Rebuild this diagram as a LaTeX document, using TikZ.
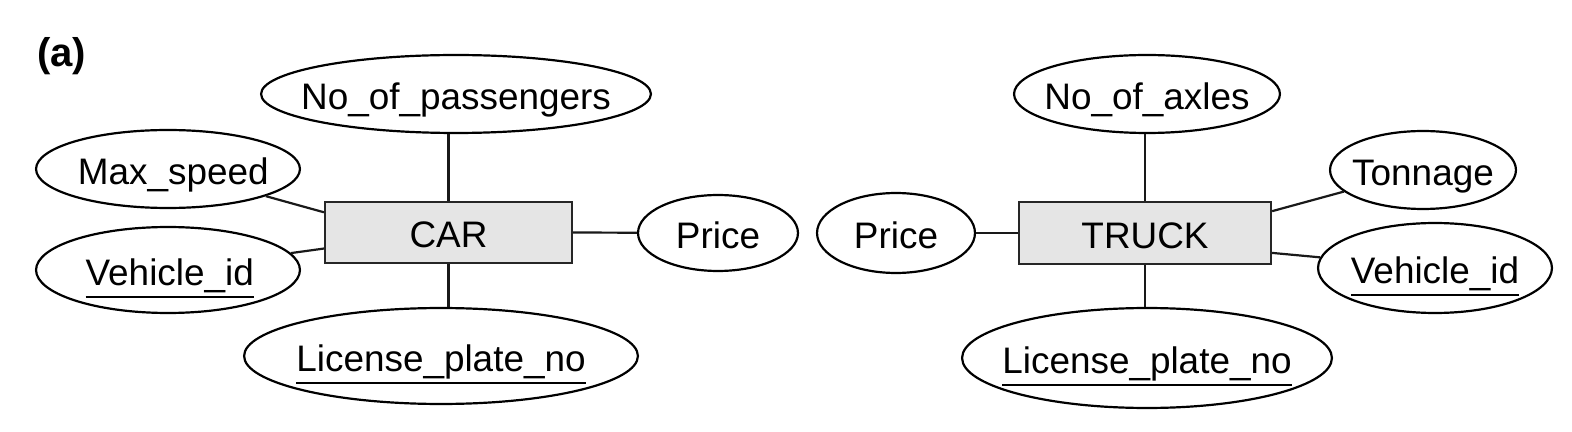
\documentclass[tikz,border=0pt]{standalone}
\usepackage{fontspec}
\setmainfont{Liberation Sans}
\usetikzlibrary{shapes.geometric,calc}
\newcommand{\ulx}[1]{\setbox0\hbox{#1}\rlap{\raisebox{-0.35em}{\rule{\wd0}{0.06em}}}\box0}
\begin{document}
\begin{tikzpicture}[x=0.02cm,y=-0.02cm,
  txt/.style={font=\fontsize{21}{25}\selectfont, text height=17.3pt, text depth=0pt},
  attr/.style 2 args={txt, ellipse, draw, line width=1.25pt, inner sep=0pt,
    minimum width={#1*0.04cm}, minimum height={#2*0.04cm}},
  entity/.style 2 args={txt, rectangle, draw=black!85, fill=black!10, line width=1.25pt,
    inner sep=0pt, minimum width={#1*0.02cm}, minimum height={#2*0.02cm}},
  conn/.style={line width=1.25pt, draw=black!90},
  tag/.style={font=\fontsize{22.8}{26}\selectfont\bfseries, inner sep=0pt, anchor=base west}]
\useasboundingbox (0,0) rectangle (1572,432);
\node[tag] (lbl) at (37,67) {(a)};
% CAR
\node[entity={247}{61}] (car) at (448.5,232.5) {\makebox[0pt]{CAR}};
\node[attr={195}{39}] (pas) at (456,94) {\makebox[0pt]{No\_of\_passengers}};
\node[attr={132}{39}] (max) at (168,169) {\makebox[0pt]{\hspace{6pt}Max\_speed}};
\node[attr={132}{43}] (vid1) at (168,270) {\makebox[0pt]{\hspace{2pt}\ulx{Vehicle\_id}}};
\node[attr={197}{48}] (lic1) at (441,356) {\makebox[0pt]{\ulx{License\_plate\_no}}};
\node[attr={80}{38}] (pr1) at (718,233) {\makebox[0pt]{Price}};
% TRUCK
\node[entity={252}{62}] (truck) at (1145,233) {\makebox[0pt]{TRUCK}};
\node[attr={79}{40}] (pr2) at (896,233) {\makebox[0pt]{Price}};
\node[attr={133}{39}] (axl) at (1147,94) {\makebox[0pt]{No\_of\_axles}};
\node[attr={93}{39}] (ton) at (1423,170) {\makebox[0pt]{Tonnage}};
\node[attr={117}{45}] (vid2) at (1435,268) {\makebox[0pt]{\ulx{Vehicle\_id}}};
\node[attr={185}{50}] (lic2) at (1147,358) {\makebox[0pt]{\ulx{License\_plate\_no}}};
% connectors CAR
\draw[conn] (car.north) -- (car.north |- pas.south);
\draw[conn] (car.south) -- (car.south |- lic1.north);
\draw[conn] (car.east) -- (pr1);
\draw[conn] (max) -- ($(car.north west)!0.18!(car.south west)$);
\draw[conn] (vid1) -- ($(car.north west)!0.754!(car.south west)$);
% connectors TRUCK
\draw[conn] (truck.north) -- (truck.north |- axl.south);
\draw[conn] (truck.south) -- (truck.south |- lic2.north);
\draw[conn] (pr2) -- (truck.west);
\draw[conn] (ton) -- ($(truck.north east)!0.16!(truck.south east)$);
\draw[conn] (vid2) -- ($(truck.north east)!0.81!(truck.south east)$);
\end{tikzpicture}
\end{document}
